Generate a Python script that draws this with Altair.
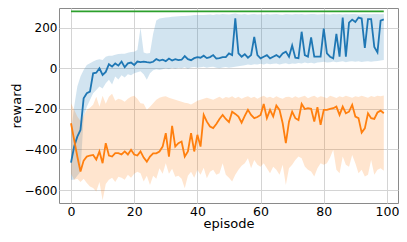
import altair as alt
import pandas as pd

episodes = list(range(100))

blue_mean = [-465, -386, -337, -304, -148, -123, -115, -25, -22, 0,
             -33, -18, 20, 8, 24, 13, 33, 5, 24, 28,
             16, 33, 30, 33, 30, 28, 32, 45, 38, 42,
             35, 48, 38, 45, 40, 42, 60, 45, 40, 50,
             55, 52, 62, 50, 55, 65, 48, 50, 55, 55,
             73, 65, 246, 73, 57, 69, 52, 65, 155, 65,
             49, 57, 65, 49, 57, 65, 54, 73, 82, 57,
             112, 52, 50, 180, 65, 57, 152, 57, 57, 57,
             195, 73, 57, 49, 170, 57, 250, 57, 225, 240,
             228, 250, 245, 100, 242, 242, 105, 78, 235, 241]

blue_hi = [-320, -189, -90, -41, -9, 16, 25, 33, 41, 45,
           41, 57, 62, 62, 66, 70, 72, 72, 76, 80,
           82, 90, 200, 78, 73, 75, 170, 235, 245, 248,
           250, 252, 254, 255, 256, 258, 258, 259, 260, 262,
           262, 263, 262, 264, 265, 263, 266, 265, 267, 266,
           265, 267, 270, 266, 265, 267, 264, 266, 268, 265,
           266, 264, 267, 265, 266, 268, 265, 264, 267, 266,
           265, 268, 266, 267, 265, 266, 268, 267, 265, 266,
           268, 266, 265, 267, 266, 268, 265, 267, 266, 268,
           267, 265, 266, 268, 267, 266, 268, 267, 266, 268]

blue_lo = [-550, -550, -530, -510, -240, -190, -156, -123, -107, -90,
           -100, -74, -57, -80, -41, -55, -35, -45, -30, -35,
           -25, -20, -15, -30, -57, -25, -10, -5, -8, -5,
           0, -5, 2, -3, 3, 0, 5, -2, 4, 6,
           2, 5, 8, 3, 6, 8, 2, 0, 4, 6,
           3, 5, 8, 10, 12, 15, 18, 16, 20, 18,
           22, 19, 24, 20, 22, 24, 18, 22, 25, 20,
           24, 22, 26, 24, 28, 25, 27, 24, 28, 30,
           32, 28, 30, 33, 30, 32, 34, 30, 33, 35,
           32, 34, 31, 33, 35, 32, 34, 36, 38, 41]

orange_mean = [-271, -353, -435, -509, -455, -435, -430, -427, -450, -410,
               -468, -369, -430, -435, -418, -418, -425, -410, -425, -402,
               -425, -430, -410, -440, -460, -435, -419, -419, -410, -386,
               -320, -435, -284, -386, -369, -361, -435, -410, -320, -410,
               -328, -386, -230, -263, -287, -295, -275, -250, -230, -250,
               -265, -214, -225, -238, -268, -235, -205, -230, -246, -240,
               -230, -176, -246, -205, -238, -184, -205, -271, -369, -263,
               -214, -246, -255, -176, -201, -197, -200, -263, -192, -279,
               -205, -205, -200, -197, -189, -230, -189, -222, -214, -180,
               -238, -246, -317, -296, -222, -246, -250, -218, -209, -222]

orange_hi = [-172, -205, -238, -260, -235, -205, -195, -180, -140, -190,
             -135, -175, -140, -125, -160, -150, -155, -165, -150, -140,
             -135, -150, -172, -175, -205, -190, -172, -155, -145, -140,
             -138, -145, -150, -155, -160, -165, -170, -172, -178, -170,
             -160, -155, -150, -145, -150, -155, -148, -140, -150, -142,
             -145, -138, -148, -140, -150, -143, -138, -146, -140, -150,
             -142, -136, -145, -140, -148, -138, -145, -150, -142, -140,
             -147, -138, -145, -140, -136, -148, -140, -135, -145, -138,
             -142, -148, -136, -140, -146, -138, -143, -135, -140, -145,
             -138, -142, -136, -140, -145, -137, -141, -136, -138, -134]

orange_lo = [-520, -550, -545, -560, -545, -565, -583, -590, -607, -560,
             -650, -570, -550, -540, -560, -535, -540, -550, -525, -540,
             -520, -510, -517, -558, -530, -575, -530, -545, -493, -520,
             -468, -520, -495, -535, -530, -545, -591, -530, -510, -540,
             -500, -525, -490, -542, -510, -500, -525, -517, -468, -525,
             -540, -558, -525, -500, -480, -468, -443, -493, -452, -476,
             -485, -468, -493, -517, -485, -500, -525, -476, -575, -493,
             -476, -452, -435, -443, -484, -500, -509, -534, -493, -468,
             -476, -468, -440, -402, -500, -517, -435, -476, -485, -427,
             -468, -517, -500, -534, -525, -452, -525, -500, -493, -505]

optimum = [280] * 100

df = pd.DataFrame({
    "episode": episodes,
    "blue": blue_mean, "blue_lo": blue_lo, "blue_hi": blue_hi,
    "orange": orange_mean, "orange_lo": orange_lo, "orange_hi": orange_hi,
    "green": optimum,
})

BLUE = "#1f77b4"
ORANGE = "#ff7f0e"
GREEN = "#2ca02c"

x = alt.X("episode:Q", title="episode",
          scale=alt.Scale(domain=[-3.8, 103.5], nice=False, zero=False),
          axis=alt.Axis(values=[0, 20, 40, 60, 80, 100], labelFlush=False,
                        labelFontSize=12.5, labelPadding=2, titlePadding=0))
yscale = alt.Scale(domain=[-664, 297], nice=False, zero=False)
yaxis = alt.Axis(values=[-600, -400, -200, 0, 200], labelFontSize=12,
                 labelPadding=2, titlePadding=1)

base = alt.Chart(df)

blue_band = base.mark_area(color=BLUE, opacity=0.2).encode(
    x=x, y=alt.Y("blue_lo:Q", title="reward", scale=yscale, axis=yaxis), y2="blue_hi:Q")
orange_band = base.mark_area(color=ORANGE, opacity=0.2).encode(
    x=x, y=alt.Y("orange_lo:Q", scale=yscale), y2="orange_hi:Q")
blue_line = base.mark_line(color=BLUE, strokeWidth=1.8).encode(
    x=x, y=alt.Y("blue:Q", scale=yscale))
orange_line = base.mark_line(color=ORANGE, strokeWidth=1.8).encode(
    x=x, y=alt.Y("orange:Q", scale=yscale))
green_line = base.mark_line(color=GREEN, strokeWidth=1.8).encode(
    x=x, y=alt.Y("green:Q", scale=yscale))

chart = alt.layer(blue_band, orange_band, blue_line, orange_line, green_line).properties(
    width=339, height=195,
    autosize=alt.AutoSizeParams(type="none"),
    padding={"left": 51, "top": 0, "right": 1, "bottom": 31},
).configure_view(
    stroke="#8a8a8a", strokeWidth=1
).configure_axis(
    labelFont="DejaVu Sans", labelColor="#000000",
    titleFont="DejaVu Sans", titleFontSize=13, titleFontWeight="normal", titleColor="#000000",
    grid=True, gridColor="#d4d4d4", gridWidth=1,
    domain=False, ticks=False, tickSize=0,
)

chart.save("out.html", embed_options={"renderer": "svg", "actions": False})
